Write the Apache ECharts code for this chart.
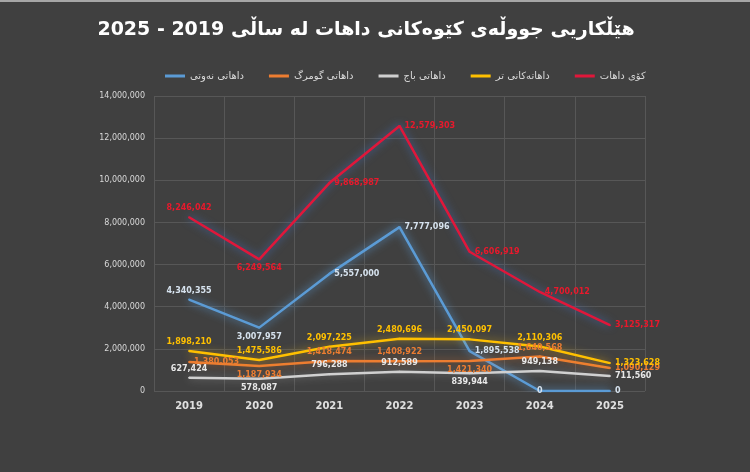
<!DOCTYPE html>
<html>
<head>
<meta charset="utf-8">
<script src="https://cdn.jsdelivr.net/npm/echarts@6/dist/echarts.min.js"></script>
<style>
  html, body { margin: 0; padding: 0; background: #404040; }
  #main { width: 750px; height: 472px; border-top: 2px solid #a6a6a6; box-sizing: border-box; }
</style>
</head>
<body>
<div id="main"></div>
<script>
// ساڵەکان
var years = ['2019', '2020', '2021', '2022', '2023', '2024', '2025'];
// داهاتی نەوتی
var oilRevenue = [4340355, 3007957, 5557000, 7777096, 1895538, 0, 0];
// داهاتی گومرگ
var customsRevenue = [1380053, 1187934, 1418474, 1408922, 1421340, 1640568, 1090129];
// داهاتی باج
var taxRevenue = [627424, 578087, 796288, 912589, 839944, 949138, 711560];
// داهاتەکانی تر
var otherRevenue = [1898210, 1475586, 2097225, 2480696, 2450097, 2110306, 1323628];
// کۆی داهات
var totalRevenue = [8246042, 6249564, 9868987, 12579303, 6606919, 4700012, 3125317];

// شوێنی لەیبڵەکان
var oilLabelPos = ['top', 'bottom', 'right', 'right', 'right', 'inside', 'right'];
var customsLabelPos = ['right', 'bottom', 'top', 'top', 'bottom', 'top', 'right'];
var taxLabelPos = ['top', 'bottom', 'top', 'top', 'bottom', 'top', 'right'];
var otherLabelPos = ['top', 'top', 'top', 'top', 'top', 'top', 'right'];
var totalLabelPos = ['top', 'bottom', 'right', 'right', 'right', 'right', 'right'];

var fontFamily = "'DejaVu Sans', 'Noto Sans', sans-serif";

function withLabels(values, positions) {
    return values.map(function (v, i) {
        return { value: v, label: { position: positions[i] } };
    });
}

function makeSeries(name, values, positions, color, labelColor, glow) {
    return {
        name: name,
        type: 'line',
        data: withLabels(values, positions),
        symbol: 'circle',
        symbolSize: 2,
        itemStyle: { color: color },
        lineStyle: { color: color, width: 2.5, shadowColor: glow, shadowBlur: 8 },
        label: {
            show: true,
            color: labelColor,
            fontSize: 8,
            fontWeight: 'bold',
            fontFamily: fontFamily,
            distance: 4,
            formatter: function (p) { return p.value.toLocaleString('en-US'); }
        }
    };
}

var myChart = echarts.init(document.getElementById('main'));

var option = {
    backgroundColor: '#404040',
    title: {
        text: '\u202Bهێڵکاریی جووڵەی کێوەکانی داهات لە ساڵی 2019 - 2025\u202C',
        left: 361,
        top: 14,
        textAlign: 'center',
        textStyle: { color: '#ffffff', fontSize: 19, fontWeight: 'bold', fontFamily: fontFamily }
    },
    legend: {
        data: ['داهاتی نەوتی', 'داهاتی گومرگ', 'داهاتی باج', 'داهاتەکانی تر', 'کۆی داهات'],
        top: 64,
        left: 160,
        itemGap: 25,
        itemWidth: 20,
        itemHeight: 3,
        icon: 'rect',
        textStyle: { color: '#d9d9d9', fontSize: 10, fontFamily: fontFamily }
    },
    grid: { left: 154, right: 105, top: 94, bottom: 81 },
    xAxis: {
        type: 'category',
        data: years,
        boundaryGap: true,
        axisLine: { show: false },
        axisTick: { show: false },
        axisLabel: { color: '#e0e0e0', fontSize: 10, fontWeight: 'bold', fontFamily: fontFamily, margin: 10 },
        splitLine: { show: true, lineStyle: { color: '#575757', width: 1 } }
    },
    yAxis: {
        type: 'value',
        min: 0,
        max: 14000000,
        interval: 2000000,
        axisLine: { show: false },
        axisTick: { show: false },
        axisLabel: {
            color: '#d9d9d9', fontSize: 8, fontFamily: fontFamily, margin: 9,
            formatter: function (v) { return v.toLocaleString('en-US'); }
        },
        splitLine: { lineStyle: { color: '#575757', width: 1 } }
    },
    series: [
        makeSeries('داهاتی نەوتی', oilRevenue, oilLabelPos, '#5b9bd5', '#d6e2ee', '#5b9bd5'),
        makeSeries('داهاتی گومرگ', customsRevenue, customsLabelPos, '#ed7d31', '#ed7d31', 'rgba(237,125,49,0.6)'),
        makeSeries('داهاتی باج', taxRevenue, taxLabelPos, '#d0d0d0', '#e8e8e8', 'rgba(220,220,220,0.4)'),
        makeSeries('داهاتەکانی تر', otherRevenue, otherLabelPos, '#ffc000', '#ffc000', 'rgba(255,192,0,0.6)'),
        makeSeries('کۆی داهات', totalRevenue, totalLabelPos, '#e0173a', '#e8192c', 'rgba(68,114,196,0.9)')
    ]
};
myChart.setOption(option);
</script>
</body>
</html>
